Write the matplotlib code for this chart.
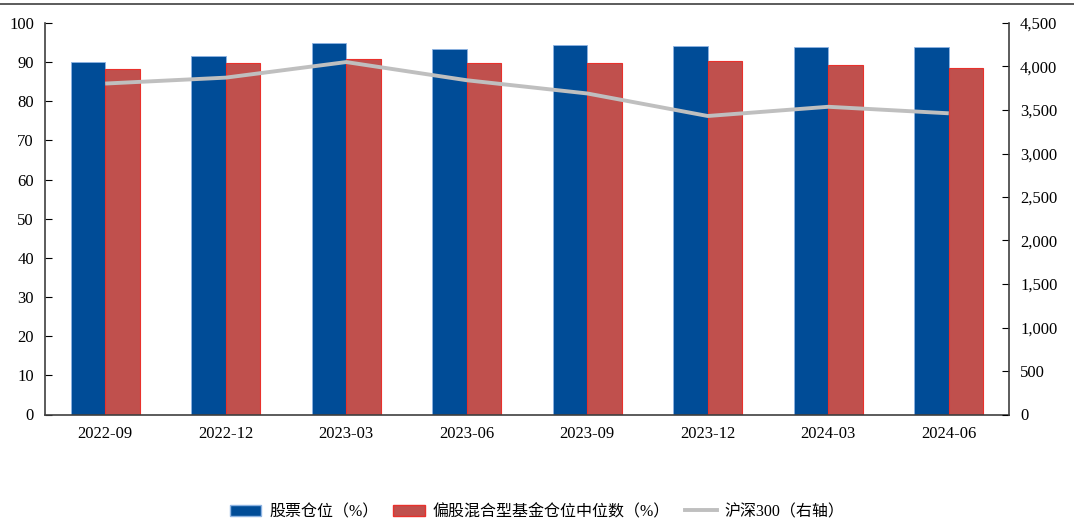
import numpy as np
import matplotlib
matplotlib.use("Agg")
import matplotlib.pyplot as plt
from matplotlib.lines import Line2D
from matplotlib.ticker import FuncFormatter

# quarter-end data
quarters = ['2022-09', '2022-12', '2023-03', '2023-06',
            '2023-09', '2023-12', '2024-03', '2024-06']
stock_pos = [90.1, 91.6, 94.8, 93.3, 94.4, 94.1, 93.9, 93.9]
hybrid_median = [88.3, 89.8, 90.8, 89.7, 89.8, 90.2, 89.3, 88.5]
hs300 = [3804, 3872, 4051, 3842, 3690, 3431, 3537, 3462]

labels = ['股票仓位（%）', '偏股混合型基金仓位中位数（%）', '沪深300（右轴）']

plt.rcParams['font.family'] = ['Liberation Serif', 'Noto Sans CJK SC']

fig = plt.figure(figsize=(10.74, 5.28), dpi=100)
ax = fig.add_axes([45 / 1074, 1 - 414.5 / 528, 964 / 1074, 391.5 / 528])

ind = np.arange(len(quarters))
width = 0.286
blue = '#004C97'
red = '#C0504D'

ax.bar(ind - width / 2, stock_pos, width, color=blue, edgecolor='#8DB3E2', linewidth=0.6)
ax.bar(ind + width / 2, hybrid_median, width, color=red, edgecolor='#E8312C', linewidth=0.8)

ax.set_xlim(-0.5, len(quarters) - 0.5)
ax.set_ylim(0, 100)
ax.set_yticks(np.arange(0, 101, 10))
ax.set_xticks(ind)
ax.set_xticklabels(quarters)
ax.tick_params(axis='x', length=0, labelsize=12, pad=8)
ax.tick_params(axis='y', direction='in', length=5, labelsize=12, pad=8)
ax.spines['top'].set_visible(False)
ax.spines['right'].set_visible(False)
for s in ['left', 'bottom']:
    ax.spines[s].set_color('#404040')
    ax.spines[s].set_linewidth(1.2)

ax2 = ax.twinx()
ax2.plot(ind, hs300, color='#BFBFBF', linewidth=2.8, solid_capstyle='butt')
ax2.set_ylim(0, 4500)
ax2.set_yticks(np.arange(0, 4501, 500))
ax2.yaxis.set_major_formatter(FuncFormatter(lambda v, p: f'{int(v):,}'))
ax2.tick_params(axis='y', direction='in', length=5, labelsize=12, pad=8)
for s in ['top', 'left', 'bottom']:
    ax2.spines[s].set_visible(False)
ax2.spines['right'].set_color('#404040')
ax2.spines['right'].set_linewidth(1.2)

# legend at bottom
handles = [plt.Rectangle((0, 0), 1, 1, facecolor=blue, edgecolor='#8DB3E2'),
           plt.Rectangle((0, 0), 1, 1, facecolor=red, edgecolor='#E8312C'),
           Line2D([0], [0], color='#BFBFBF', linewidth=2.8)]
fig.legend(handles, labels, loc='center', bbox_to_anchor=(0.5, 1 - 512 / 528),
           ncol=3, frameon=False, fontsize=11.5, handlelength=2.0, handleheight=0.75,
           columnspacing=0.9, handletextpad=0.5)

# thin rule across the top
fig.add_artist(Line2D([0, 1], [1 - 4 / 528, 1 - 4 / 528], color='#404040', linewidth=1.2,
                      transform=fig.transFigure))

fig.savefig('out.png', dpi=100)
